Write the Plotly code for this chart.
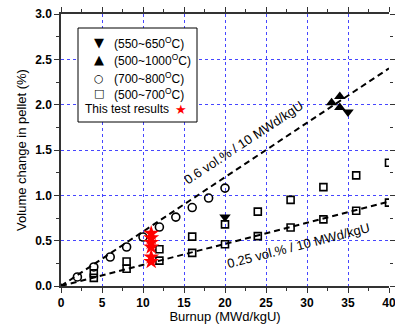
import plotly.graph_objects as go

# ---- data ----
circ_x = [2, 4, 6, 8, 10, 12, 14, 16, 18, 20]
circ_y = [0.10, 0.21, 0.32, 0.43, 0.54, 0.65, 0.76, 0.865, 0.97, 1.08]

sq_x = [4, 4, 8, 8, 12, 12, 16, 16, 20, 20, 24, 24, 28, 28, 32, 32, 36, 36, 40, 40]
sq_y = [0.09, 0.14, 0.19, 0.27, 0.28, 0.405, 0.365, 0.545, 0.46, 0.68,
        0.55, 0.82, 0.645, 0.95, 0.735, 1.09, 0.83, 1.22, 0.92, 1.36]

down_x = [20, 35]
down_y = [0.76, 1.92]

up_x = [33, 34, 34]
up_y = [2.02, 2.09, 1.97]

star_x = [11, 11, 11, 11, 11, 11]
star_y = [0.27, 0.32, 0.43, 0.48, 0.53, 0.58]

origin_x = [0]
origin_y = [0]

fit1_x = [0, 40]
fit1_y = [0, 2.4]
fit2_x = [0, 40]
fit2_y = [0, 0.93]

xticks = [0, 5, 10, 15, 20, 25, 30, 35, 40]
yticks = [0.0, 0.5, 1.0, 1.5, 2.0, 2.5, 3.0]

legend_symbols = ["▼", "▲", "○", "□"]
legend_sym_sizes = [13, 13, 11, 11]
legend_labels = ["(550~650<sup>O</sup>C)", "(500~1000<sup>O</sup>C)",
                 "(700~800<sup>O</sup>C)", "(500~700<sup>O</sup>C)"]
test_label = "This test results"

FONT = "Arial, Liberation Sans, sans-serif"
GRID = "rgb(70,70,255)"

fig = go.Figure()

fig.add_trace(go.Scatter(x=fit1_x, y=fit1_y, mode="lines",
                         line=dict(color="black", width=2, dash="6px,4px"),
                         showlegend=False, hoverinfo="skip"))
fig.add_trace(go.Scatter(x=fit2_x, y=fit2_y, mode="lines",
                         line=dict(color="black", width=2, dash="6px,4px"),
                         showlegend=False, hoverinfo="skip"))

fig.add_trace(go.Scatter(x=down_x, y=down_y, mode="markers", name=legend_labels[0], showlegend=False,
                         marker=dict(symbol="triangle-down", size=10, color="black")))
fig.add_trace(go.Scatter(x=up_x, y=up_y, mode="markers", name=legend_labels[1], showlegend=False,
                         marker=dict(symbol="triangle-up", size=10, color="black")))
fig.add_trace(go.Scatter(x=circ_x, y=circ_y, mode="markers", name=legend_labels[2], showlegend=False,
                         marker=dict(symbol="circle-open", size=8, color="black",
                                     line=dict(width=1.6, color="black"))))
fig.add_trace(go.Scatter(x=sq_x, y=sq_y, mode="markers", name=legend_labels[3], showlegend=False,
                         marker=dict(symbol="square-open", size=7, color="black",
                                     line=dict(width=1.6, color="black"))))
fig.add_trace(go.Scatter(x=origin_x, y=origin_y, mode="markers", showlegend=False,
                         marker=dict(symbol="circle", size=5, color="black")))
fig.add_trace(go.Scatter(x=star_x, y=star_y, mode="markers", name=test_label, showlegend=False,
                         marker=dict(symbol="star", size=12, color="red",
                                     line=dict(width=0))))

# right-side ticks without axis line
fig.add_trace(go.Scatter(x=[None], y=[None], yaxis="y2", showlegend=False))

# manual legend (paper coordinates)
def px_to_paper(px, py):
    return (px - 61) / 328.0, (286 - py) / 272.0

annotations = []
row_y = [43, 60, 78, 94]
for sym, ssz, lab, ry in zip(legend_symbols, legend_sym_sizes, legend_labels, row_y):
    sx, sy = px_to_paper(99, ry)
    tx, _ = px_to_paper(112, ry)
    annotations.append(dict(text=sym, xref="paper", yref="paper", x=sx, y=sy,
                            xanchor="center", yanchor="middle", showarrow=False,
                            font=dict(family="DejaVu Sans", size=ssz, color="black", weight="bold")))
    annotations.append(dict(text=lab, xref="paper", yref="paper", x=tx, y=sy,
                            xanchor="left", yanchor="middle", showarrow=False,
                            font=dict(family=FONT, size=12)))
tx, ty = px_to_paper(83, 109)
annotations.append(dict(text=test_label, xref="paper", yref="paper", x=tx, y=ty,
                        xanchor="left", yanchor="middle", showarrow=False,
                        font=dict(family=FONT, size=12)))
sx, sy = px_to_paper(181, 110)
annotations.append(dict(text="★", xref="paper", yref="paper", x=sx, y=sy,
                        xanchor="center", yanchor="middle", showarrow=False,
                        font=dict(family="DejaVu Sans", size=13, color="red")))
annotations.append(dict(text="0.6 vol.% / 10 MWd/kgU", x=22.3, y=1.58, showarrow=False,
                        textangle=-33.5, font=dict(family=FONT, size=13)))
annotations.append(dict(text="0.25 vol.% / 10 MWd/kgU", x=29.0, y=0.45, showarrow=False,
                        textangle=-14.4, font=dict(family=FONT, size=13)))

bx0, by0 = px_to_paper(78, 122)
bx1, by1 = px_to_paper(197, 28)

fig.update_layout(
    width=395, height=324,
    margin=dict(l=61, r=6, t=14, b=38, autoexpand=False),
    paper_bgcolor="white", plot_bgcolor="white",
    font=dict(family=FONT, color="black", size=12),
    showlegend=False,
    xaxis=dict(range=[0, 40], tickvals=xticks, ticktext=[str(v) for v in xticks],
               automargin=False, ticklabeloverflow="allow",
               showline=True, linecolor="#333", linewidth=1.5, mirror="ticks",
               ticks="outside", ticklen=5, tickcolor="#333", tickwidth=1,
               minor=dict(dtick=2.5, ticks="outside", ticklen=3, tickcolor="#333", showgrid=False),
               showgrid=True, gridcolor=GRID, griddash="dot", gridwidth=1,
               zeroline=False,
               tickfont=dict(family=FONT, size=12, weight="bold"),
               title=dict(text="Burnup (MWd/kgU)", font=dict(family=FONT, size=13), standoff=7)),
    yaxis=dict(range=[0, 3.0], tickvals=yticks, ticktext=[f"{v:.1f}" for v in yticks],
               automargin=False, ticklabeloverflow="allow",
               showline=True, linecolor="#333", linewidth=1.5,
               ticks="outside", ticklen=5, tickcolor="#333", tickwidth=1,
               minor=dict(dtick=0.25, ticks="outside", ticklen=3, tickcolor="#333", showgrid=False),
               showgrid=True, gridcolor=GRID, griddash="dot", gridwidth=1,
               zeroline=False,
               tickfont=dict(family=FONT, size=12, weight="bold"),
               title=dict(text="Volume change in pellet (%)", font=dict(family=FONT, size=13), standoff=6)),
    yaxis2=dict(range=[0, 3.0], overlaying="y", side="right", showline=False, automargin=False,
                tickvals=yticks, showticklabels=False, ticks="outside", ticklen=5,
                tickcolor="#333", showgrid=False, zeroline=False,
                minor=dict(dtick=0.25, ticks="outside", ticklen=3, tickcolor="#333")),
    shapes=[dict(type="rect", xref="paper", yref="paper",
                 x0=bx0, x1=bx1, y0=by0, y1=by1,
                 line=dict(color="black", width=1), fillcolor="white", layer="above")],
    annotations=annotations,
)

fig.write_html("out.html", config={"displayModeBar": False},
               post_script="document.body.style.margin='0';")
